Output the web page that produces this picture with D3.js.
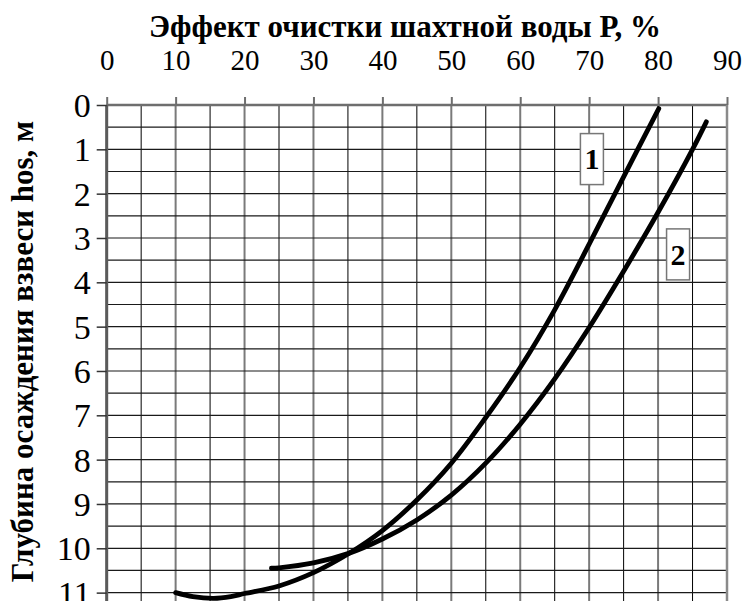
<!DOCTYPE html>
<html>
<head>
<meta charset="utf-8">
<script src="https://cdn.jsdelivr.net/npm/d3@7"></script>
<style>
  html, body { margin: 0; padding: 0; background: #fff; }
  svg { display: block; }
</style>
</head>
<body>
<svg id="chart" width="745" height="601"></svg>
<script>
// Treatment effect P (%) against settling depth hos (m) for two cases
const xTicks = [0, 10, 20, 30, 40, 50, 60, 70, 80, 90];
const yTicks = [0, 1, 2, 3, 4, 5, 6, 7, 8, 9, 10, 11];

const curve1P = [10, 12.5, 15.5, 18, 20, 25, 30, 35, 40, 45, 50, 55, 60, 65, 70, 75, 80.1];
const curve1H = [11.0, 11.09, 11.13, 11.09, 11.02, 10.85, 10.55, 10.13, 9.6, 8.91, 8.08, 7.05, 5.92, 4.62, 3.14, 1.62, 0.08];

const curve2P = [23.9, 25, 30, 35, 40, 45, 50, 55, 60, 65, 70, 75, 80, 85, 87];
const curve2H = [10.45, 10.44, 10.33, 10.12, 9.79, 9.36, 8.80, 8.08, 7.20, 6.18, 5.02, 3.75, 2.42, 1.0, 0.38];

const curveLabels = ["1", "2"];
const labelP = [70.4, 82.9];
const labelH = [1.22, 3.37];

const xTitle = "Эффект очистки шахтной воды Р, %";
const yTitle = "Глубина осаждения взвеси hos, м";

const serif = "'Liberation Serif', 'Times New Roman', serif";
const svg = d3.select("#chart");

const x = d3.scaleLinear().domain([0, 90]).range([106.7, 727]);
const y = d3.scaleLinear().domain([0, 11.5]).range([105, 105 + 11.5 * 44.33]);

// grid
const grid = svg.append("g");
const vLines = d3.range(0, 91, 5);
grid.selectAll("line.v").data(vLines).enter().append("line")
  .attr("x1", d => x(d)).attr("x2", d => x(d))
  .attr("y1", y(0)).attr("y2", 601)
  .attr("stroke", d => d % 10 === 0 ? "#7a7a7a" : "#000")
  .attr("stroke-width", d => d % 10 === 0 ? 2 : 1);
const hLines = d3.range(0.5, 11.6, 0.5);
grid.selectAll("line.h").data(hLines).enter().append("line")
  .attr("x1", x(0)).attr("x2", x(90))
  .attr("y1", d => y(d)).attr("y2", d => y(d))
  .attr("stroke", "#1a1a1a")
  .attr("stroke-width", 1.2);

// frame: top, left, right
svg.append("line").attr("x1", x(0)).attr("x2", x(90)).attr("y1", y(0)).attr("y2", y(0))
  .attr("stroke", "#6e6e6e").attr("stroke-width", 2.5);
svg.append("line").attr("x1", x(0)).attr("x2", x(0)).attr("y1", y(0)).attr("y2", 601)
  .attr("stroke", "#5a5a5a").attr("stroke-width", 3);
svg.append("line").attr("x1", x(90)).attr("x2", x(90)).attr("y1", y(0)).attr("y2", 601)
  .attr("stroke", "#8a8a8a").attr("stroke-width", 2.5);

// top axis
const xAxis = svg.append("g").attr("transform", `translate(0,${y(0)})`)
  .call(d3.axisTop(x).tickValues(xTicks).tickSize(8).tickPadding(27).tickFormat(d3.format("d")));
xAxis.select(".domain").remove();
xAxis.selectAll(".tick line").attr("stroke", "#6e6e6e").attr("stroke-width", 2);
xAxis.selectAll(".tick text").style("font-family", serif).style("font-size", "29px").attr("fill", "#000");

// left axis
const yAxis = svg.append("g").attr("transform", `translate(${x(0)},0)`)
  .call(d3.axisLeft(y).tickValues(yTicks).tickSize(10).tickPadding(6).tickFormat(d3.format("d")));
yAxis.select(".domain").remove();
yAxis.selectAll(".tick line").attr("stroke", "#333").attr("stroke-width", 1.5);
yAxis.selectAll(".tick text").style("font-family", serif).style("font-size", "34px")
  .attr("fill", "#000").attr("dy", "0.34em");

// curves
const line = d3.line().x(d => x(d[0])).y(d => y(d[1])).curve(d3.curveCatmullRom.alpha(0.5));
const series = [d3.zip(curve1P, curve1H), d3.zip(curve2P, curve2H)];
svg.append("g").selectAll("path").data(series).enter().append("path")
  .attr("d", line)
  .attr("fill", "none")
  .attr("stroke", "#000")
  .attr("stroke-width", 4.8)
  .attr("stroke-linecap", "round")
  .attr("stroke-linejoin", "round");

// curve number tags
const tags = svg.append("g").selectAll("g").data(curveLabels).enter().append("g")
  .attr("transform", (d, i) => `translate(${x(labelP[i])},${y(labelH[i])})`);
tags.append("rect").attr("x", -11.5).attr("y", -25.5).attr("width", 23).attr("height", 51)
  .attr("fill", "#fff").attr("stroke", "#777").attr("stroke-width", 1.5);
tags.append("text").text(d => d)
  .attr("text-anchor", "middle").attr("dy", "0.34em")
  .style("font-family", serif).style("font-size", "30px").style("font-weight", "bold");

// titles
svg.append("text").text(xTitle)
  .attr("x", 405).attr("y", 37)
  .attr("text-anchor", "middle")
  .style("font-family", serif).style("font-size", "31px").style("font-weight", "bold");
svg.append("text").text(yTitle)
  .attr("transform", `translate(33,351.5) rotate(-90)`)
  .attr("text-anchor", "middle")
  .style("font-family", serif).style("font-size", "31px").style("font-weight", "bold");
</script>
</body>
</html>
